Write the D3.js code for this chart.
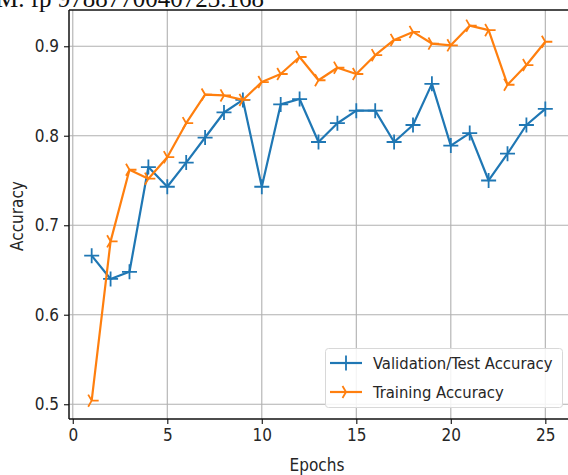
<!DOCTYPE html>
<html>
<head>
<meta charset="utf-8">
<script src="https://cdn.jsdelivr.net/npm/d3@7"></script>
<style>
  html, body { margin: 0; padding: 0; background: #ffffff; overflow: hidden; }
  svg { display: block; }
  .lab { font-family: "DejaVu Sans", sans-serif; font-stretch: condensed; fill: #262626; }
</style>
</head>
<body>
<svg id="chart" width="568" height="475"></svg>
<script>
const epochs = [1,2,3,4,5,6,7,8,9,10,11,12,13,14,15,16,17,18,19,20,21,22,23,24,25];
const validationAcc = [0.666,0.640,0.648,0.765,0.743,0.770,0.798,0.826,0.840,0.743,0.835,0.841,0.793,0.814,0.828,0.828,0.793,0.812,0.858,0.789,0.803,0.750,0.780,0.812,0.830];
const trainingAcc = [0.504,0.682,0.762,0.752,0.776,0.814,0.846,0.845,0.840,0.860,0.869,0.888,0.862,0.876,0.869,0.890,0.907,0.916,0.903,0.901,0.923,0.918,0.857,0.879,0.905];
const xTicks = [0,5,10,15,20,25];
const yTicks = [0.5,0.6,0.7,0.8,0.9];
const seriesNames = ["Validation/Test Accuracy", "Training Accuracy"];
const colors = ["#1f77b4", "#ff7f0e"];
const headerText = "M. fp 9788770040723.168";

const svg = d3.select("#chart");
const L = 69, R = 568, T = 10, B = 419;
const x = d3.scaleLinear().domain([-0.2, 26.2]).range([L, R]);
const y = d3.scaleLinear().domain([0.4835, 0.9405]).range([B, T]);

// header text (partly cropped in the source image)
svg.append("text").attr("x", -4).attr("y", 6.5)
  .attr("font-family", "Liberation Serif, serif").attr("font-size", 25)
  .attr("fill", "#111").text(headerText);

// grid
const g = svg.append("g");
g.selectAll(".gx").data(xTicks).enter().append("line")
  .attr("x1", d => x(d)).attr("x2", d => x(d)).attr("y1", T).attr("y2", B)
  .attr("stroke", "#b0b0b0").attr("stroke-width", 1.1);
g.selectAll(".gy").data(yTicks).enter().append("line")
  .attr("x1", L).attr("x2", R).attr("y1", d => y(d)).attr("y2", d => y(d))
  .attr("stroke", "#b0b0b0").attr("stroke-width", 1.1);

// axes
const xAxis = d3.axisBottom(x).tickValues(xTicks).tickSize(5).tickPadding(5).tickFormat(d3.format("d"));
const yAxis = d3.axisLeft(y).tickValues(yTicks).tickSize(5).tickPadding(5).tickFormat(d3.format(".1f"));
const gx = svg.append("g").attr("transform", `translate(0,${B})`).call(xAxis);
const gy = svg.append("g").attr("transform", `translate(${L},0)`).call(yAxis);
[gx, gy].forEach(a => {
  a.select(".domain").remove();
  a.selectAll(".tick line").attr("stroke", "#222").attr("stroke-width", 1.2);
  a.selectAll(".tick text").attr("class", "lab").attr("font-size", 17).attr("fill", "#262626");
});
// spines
svg.append("line").attr("x1", L).attr("x2", L).attr("y1", T).attr("y2", B).attr("stroke", "#111").attr("stroke-width", 1.5);
svg.append("line").attr("x1", L).attr("x2", R).attr("y1", B).attr("y2", B).attr("stroke", "#111").attr("stroke-width", 1.5);
svg.append("line").attr("x1", L).attr("x2", R).attr("y1", T).attr("y2", T).attr("stroke", "#111").attr("stroke-width", 1.5);

// axis labels
svg.append("text").attr("class", "lab").attr("x", 317).attr("y", 471)
  .attr("text-anchor", "middle").attr("font-size", 17).text("Epochs");
svg.append("text").attr("class", "lab").attr("transform", "translate(23,216) rotate(-90)")
  .attr("text-anchor", "middle").attr("font-size", 17).text("Accuracy");

// markers
function plusPath(r) { return `M${-r},0H${r}M0,${-r}V${r}`; }
function triRightPath(r) {
  const a = 2*Math.PI/3;
  return `M0,0H${r}M0,0L${r*Math.cos(a)},${-r*Math.sin(a)}M0,0L${r*Math.cos(a)},${r*Math.sin(a)}`;
}
const series = [
  { vals: validationAcc, color: colors[0], marker: plusPath(7.5) },
  { vals: trainingAcc, color: colors[1], marker: triRightPath(7) }
];
const line = d3.line().x((d, i) => x(epochs[i])).y(d => y(d));
series.forEach(s => {
  const sg = svg.append("g");
  sg.append("path").datum(s.vals).attr("d", line).attr("fill", "none")
    .attr("stroke", s.color).attr("stroke-width", 2.2).attr("stroke-linejoin", "round");
  sg.selectAll(".m").data(s.vals).enter().append("path")
    .attr("transform", (d, i) => `translate(${x(epochs[i])},${y(d)})`)
    .attr("d", s.marker).attr("stroke", s.color).attr("stroke-width", 1.8).attr("fill", "none");
});

// legend
const lg = svg.append("g");
lg.append("rect").attr("x", 325.5).attr("y", 348.5).attr("width", 237).attr("height", 59)
  .attr("rx", 3).attr("fill", "#ffffff").attr("fill-opacity", 0.85)
  .attr("stroke", "#d8d8d8").attr("stroke-width", 1);
series.forEach((s, i) => {
  const yy = 363 + i * 29;
  lg.append("line").attr("x1", 330).attr("x2", 362).attr("y1", yy).attr("y2", yy)
    .attr("stroke", s.color).attr("stroke-width", 2.2);
  lg.append("path").attr("transform", `translate(346,${yy})`).attr("d", s.marker)
    .attr("stroke", s.color).attr("stroke-width", 1.8).attr("fill", "none");
  lg.append("text").attr("class", "lab").attr("x", 373).attr("y", yy + 6)
    .attr("font-size", 16.5).text(seriesNames[i]);
});
</script>
</body>
</html>
